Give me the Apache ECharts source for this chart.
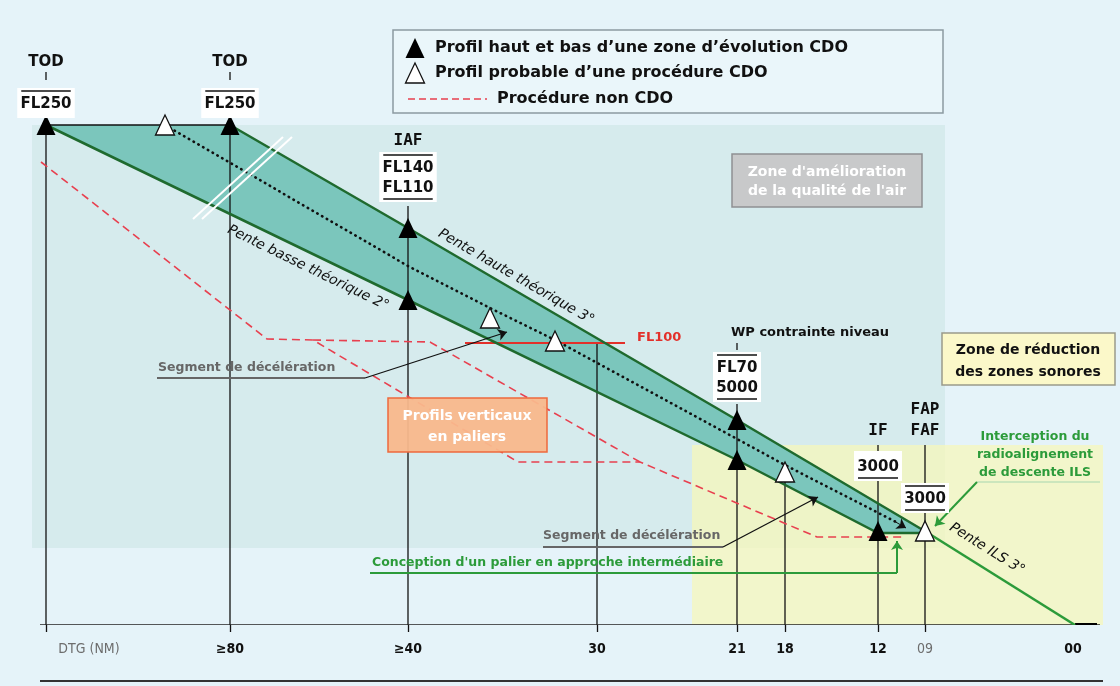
<!DOCTYPE html>
<html>
<head>
<meta charset="utf-8">
<title>Profils CDO</title>
<script src="https://cdn.jsdelivr.net/npm/echarts@6/dist/echarts.min.js"></script>
<style>
  html, body { margin: 0; padding: 0; background: #e5f3f9; }
  #chart { width: 1120px; height: 686px; }
</style>
</head>
<body>
<div id="chart"></div>
<script>
// x : position schématique le long de la trajectoire, y : niveau schématique (vers le bas)
const floorY = 625;

// axe DTG (NM)
const dtgTicks = [46, 230, 408, 597, 737, 785, 878, 925];
const dtgLabelPos = [89, 230, 408, 597, 737, 785, 878, 925, 1073];
const dtgLabels = ['DTG (NM)', '≥80', '≥40', '30', '21', '18', '12', '09', '00'];

// profil haut et bas de la zone d'évolution CDO
const topLevel = [[46, 125], [230, 125]];
const highSlope = [[230, 125], [408, 228], [737, 420], [928, 533]];
const lowSlope = [[46, 125], [408, 300], [737, 460], [878, 533], [928, 533]];
const ilsSlope = [[928, 533], [1075, 625]];

// profil probable (pointillé)
const probable = [[165, 125], [408, 266], [490, 308], [555, 340], [785, 465], [896, 522]];

// procédures non CDO
const nonCdoA = [[41, 162], [267, 339], [313, 340], [518, 462], [640, 462], [817, 537], [905, 537]];
const nonCdoB = [[313, 340], [430, 342], [640, 462]];
const fl100 = [[465, 343], [625, 343]];

// repères
const solidMarks = [[46, 125], [230, 125], [408, 228], [408, 300], [737, 420], [737, 460], [878, 531]];
const openMarks = [[165, 125], [490, 318], [555, 341], [785, 472], [925, 531]];
const verticalTops = [[46, 125], [230, 125], [408, 206], [597, 343], [737, 404], [785, 472], [878, 445], [925, 445]];

const SANS = '"DejaVu Sans", sans-serif';
const MONO = '"DejaVu Sans Mono", monospace';
const GREEN = '#2c9b3a';
const DARK_GREEN = '#1f6a2e';

const flags = [
  { x: 46, top: 88, lines: ['FL250'], over: true, under: false, tick: [72, 80], heads: [{ t: 'TOD', y: 62 }] },
  { x: 230, top: 88, lines: ['FL250'], over: true, under: false, tick: [72, 80], heads: [{ t: 'TOD', y: 62 }] },
  { x: 408, top: 152, lines: ['FL140', 'FL110'], over: true, under: true, heads: [{ t: 'IAF', y: 141, mono: true }] },
  { x: 737, top: 352, lines: ['FL70', '5000'], over: true, under: true, tick: [343, 350],
    heads: [{ t: 'WP contrainte niveau', y: 333, dx: 73, small: true }] },
  { x: 878, top: 451, lines: ['3000'], over: false, under: true, heads: [{ t: 'IF', y: 431, mono: true }] },
  { x: 925, top: 483, lines: ['3000'], over: true, under: true,
    heads: [{ t: 'FAP', y: 410, mono: true }, { t: 'FAF', y: 431, mono: true }] }
];

const zones = [
  { x0: 32, y0: 125, x1: 945, y1: 548, fill: '#d6ebed' },
  { x0: 692, y0: 445, x1: 1103, y1: 625, fill: 'rgba(247,246,184,0.72)' },
  { x0: 393, y0: 30, x1: 943, y1: 113, fill: '#eaf6fa', stroke: '#8c9ba1' }
];
const boxes = [
  { x0: 732, y0: 154, x1: 922, y1: 207, fill: '#c8c9ca', stroke: '#8f9092' },
  { x0: 942, y0: 333, x1: 1115, y1: 385, fill: '#fbf8c9', stroke: '#9a9a8a' },
  { x0: 388, y0: 398, x1: 547, y1: 452, fill: 'rgba(249,184,140,0.95)', stroke: '#ee6a3c' }
];

const texts = [
  { at: [435, 48], text: 'Profil haut et bas d’une zone d’évolution CDO', font: 'bold 16px ' + SANS, fill: '#111', align: 'left' },
  { at: [435, 73], text: 'Profil probable d’une procédure CDO', font: 'bold 16px ' + SANS, fill: '#111', align: 'left' },
  { at: [497, 99], text: 'Procédure non CDO', font: 'bold 16px ' + SANS, fill: '#111', align: 'left' },
  { at: [827, 172], text: 'Zone d\'amélioration', font: 'bold 14px ' + SANS, fill: '#fff' },
  { at: [827, 191], text: 'de la qualité de l\'air', font: 'bold 14px ' + SANS, fill: '#fff' },
  { at: [1028, 350], text: 'Zone de réduction', font: 'bold 14px ' + SANS, fill: '#111' },
  { at: [1028, 372], text: 'des zones sonores', font: 'bold 14px ' + SANS, fill: '#111' },
  { at: [467, 416], text: 'Profils verticaux', font: 'bold 14px ' + SANS, fill: '#fff' },
  { at: [467, 437], text: 'en paliers', font: 'bold 14px ' + SANS, fill: '#fff' },
  { at: [637, 338], text: 'FL100', font: 'bold 13px ' + SANS, fill: '#e3302a', align: 'left' },
  { at: [158, 368], text: 'Segment de décélération', font: 'bold 12.5px ' + SANS, fill: '#676767', align: 'left' },
  { at: [543, 536], text: 'Segment de décélération', font: 'bold 12.5px ' + SANS, fill: '#676767', align: 'left' },
  { at: [372, 563], text: 'Conception d\'un palier en approche intermédiaire', font: 'bold 12.5px ' + SANS, fill: GREEN, align: 'left' },
  { at: [1035, 437], text: 'Interception du', font: 'bold 12.5px ' + SANS, fill: GREEN },
  { at: [1035, 455], text: 'radioalignement', font: 'bold 12.5px ' + SANS, fill: GREEN },
  { at: [1035, 473], text: 'de descente ILS', font: 'bold 12.5px ' + SANS, fill: GREEN },
  { at: [516, 277], text: 'Pente haute théorique 3°', font: 'italic 14px ' + SANS, fill: '#111', rotate: -30 },
  { at: [308, 268], text: 'Pente basse théorique 2°', font: 'italic 14px ' + SANS, fill: '#111', rotate: -26 },
  { at: [987, 549], text: 'Pente ILS 3°', font: 'italic 14px ' + SANS, fill: '#111', rotate: -32 }
];

const paths = [];
const addPath = (coords, lineStyle) => paths.push({ coords, lineStyle });
verticalTops.forEach(([x, y]) => addPath([[x, y], [x, floorY]], { color: '#111', width: 1.3 }));
addPath([[40, floorY], [1100, floorY]], { color: '#222', width: 1.5 });
addPath([[1075, floorY], [1097, floorY]], { color: '#000', width: 4 });
addPath(nonCdoA, { color: '#e8404f', width: 1.6, type: [8, 5] });
addPath(nonCdoB, { color: '#e8404f', width: 1.6, type: [8, 5] });
addPath([[408, 99], [487, 99]], { color: '#e8404f', width: 1.6, type: [7, 4] });
addPath(fl100, { color: '#e3302a', width: 2.2 });
addPath(topLevel, { color: '#111', width: 1.6 });
addPath(highSlope, { color: DARK_GREEN, width: 2.5 });
addPath(lowSlope, { color: DARK_GREEN, width: 2.5 });
addPath(ilsSlope, { color: GREEN, width: 2.5 });
addPath(probable, { color: '#111', width: 2.6, type: [0.5, 5], cap: 'round' });
addPath([[193, 219], [283, 137]], { color: '#fff', width: 2 });
addPath([[202, 219], [292, 137]], { color: '#fff', width: 2 });
addPath([[157, 378], [365, 378]], { color: '#666', width: 2 });
addPath([[543, 547], [723, 547]], { color: '#666', width: 2 });
addPath([[370, 573], [897, 573]], { color: GREEN, width: 2 });
addPath([[977, 482], [1100, 482]], { color: '#bfe0b8', width: 1.5 });

const arrows = [
  { coords: [[365, 378], [507, 332]], lineStyle: { color: '#111', width: 1.3 } },
  { coords: [[723, 547], [818, 497]], lineStyle: { color: '#111', width: 1.3 } },
  { coords: [[897, 573], [897, 541]], lineStyle: { color: GREEN, width: 2 } },
  { coords: [[977, 482], [935, 526]], lineStyle: { color: GREEN, width: 2 } },
  { coords: [[894, 521], [906, 528]], lineStyle: { color: '#111', width: 1 } }
];

const band = [...topLevel, ...highSlope.slice(1), ...lowSlope.slice().reverse()];

function rectSeries(list, z) {
  return {
    type: 'custom', z, silent: true,
    data: list.map(p => [p.x0, p.y0, p.x1, p.y1]),
    renderItem(params, api) {
      const a = api.coord([api.value(0), api.value(1)]);
      const b = api.coord([api.value(2), api.value(3)]);
      const p = list[params.dataIndex];
      return {
        type: 'rect',
        shape: { x: a[0], y: a[1], width: b[0] - a[0], height: b[1] - a[1] },
        style: { fill: p.fill, stroke: p.stroke || null, lineWidth: p.stroke ? 1.5 : 0 }
      };
    }
  };
}

function renderFlag(params, api) {
  const f = flags[params.dataIndex];
  const x = api.value(0);
  const top = api.value(1);
  const c = api.coord([x, top]);
  const n = f.lines.length;
  const w = Math.max(...f.lines.map(t => t.length)) * 9.5 + 10;
  const h = n * 20 + 10;
  const kids = [{ type: 'rect', shape: { x: c[0] - w / 2, y: c[1], width: w, height: h }, style: { fill: '#fff' } }];
  const rule = yy => ({ type: 'line', shape: { x1: c[0] - w / 2 + 4, y1: yy, x2: c[0] + w / 2 - 4, y2: yy }, style: { stroke: '#111', lineWidth: 1.6 } });
  f.lines.forEach((t, i) => kids.push({
    type: 'text', x: c[0], y: c[1] + 16 + i * 20,
    style: { text: t, font: 'bold 15px ' + SANS, fill: '#111', align: 'center', verticalAlign: 'middle' }
  }));
  if (f.over) kids.push(rule(c[1] + 3));
  if (f.under) kids.push(rule(c[1] + h - 3));
  if (f.tick) {
    const t0 = api.coord([x, f.tick[0]]), t1 = api.coord([x, f.tick[1]]);
    kids.push({ type: 'line', shape: { x1: t0[0], y1: t0[1], x2: t1[0], y2: t1[1] }, style: { stroke: '#111', lineWidth: 1.3 } });
  }
  f.heads.forEach(hd => {
    const p = api.coord([x + (hd.dx || 0), hd.y]);
    const font = hd.mono ? 'bold 16px ' + MONO : (hd.small ? 'bold 13px ' + SANS : 'bold 15px ' + SANS);
    kids.push({ type: 'text', x: p[0], y: p[1], style: { text: hd.t, font, fill: '#111', align: 'center', verticalAlign: 'middle' } });
  });
  return { type: 'group', children: kids };
}

const chart = echarts.init(document.getElementById('chart'));
chart.setOption({
  animation: false,
  backgroundColor: '#e5f3f9',
  grid: { left: 0, right: 0, top: 0, bottom: 61 },
  xAxis: {
    type: 'value', min: 0, max: 1120,
    axisLine: { show: false, onZero: false },
    splitLine: { show: false },
    axisTick: { show: true, customValues: dtgTicks, length: 7, lineStyle: { color: '#111', width: 1.3 } },
    axisLabel: {
      customValues: dtgLabelPos,
      margin: 17,
      formatter: v => {
        const i = dtgLabelPos.indexOf(v);
        if (i < 0) return '';
        const style = (i === 0 || dtgLabels[i] === '09') ? 'dim' : 'b';
        return '{' + style + '|' + dtgLabels[i] + '}';
      },
      rich: {
        b: { fontFamily: '"DejaVu Sans Condensed", "DejaVu Sans", sans-serif', fontWeight: 'bold', fontSize: 14, color: '#111' },
        dim: { fontFamily: '"DejaVu Sans Condensed", "DejaVu Sans", sans-serif', fontSize: 14, color: '#6d6d6d' }
      }
    }
  },
  yAxis: { type: 'value', min: 0, max: floorY, inverse: true, show: false },
  graphic: [{
    type: 'line', shape: { x1: 40, y1: 681, x2: 1103, y2: 681 },
    style: { stroke: '#333', lineWidth: 2 }
  }],
  series: [
    rectSeries(zones, 0),
    {
      type: 'custom', z: 1, silent: true,
      data: [band[0]],
      renderItem(params, api) {
        return { type: 'polygon', shape: { points: band.map(p => api.coord(p)) }, style: { fill: '#7bc6bc' } };
      }
    },
    {
      type: 'lines', coordinateSystem: 'cartesian2d', polyline: true, z: 3, silent: true,
      lineStyle: { opacity: 1 },
      data: paths
    },
    {
      type: 'lines', coordinateSystem: 'cartesian2d', z: 4, silent: true,
      symbol: ['none', 'arrow'], symbolSize: 9,
      lineStyle: { opacity: 1 },
      data: arrows
    },
    {
      name: 'Profil haut et bas d’une zone d’évolution CDO',
      type: 'scatter', z: 5, silent: true,
      symbol: 'triangle', symbolSize: [19, 20],
      itemStyle: { color: '#000', opacity: 1 },
      data: solidMarks.concat([[415, 48]])
    },
    {
      name: 'Profil probable d’une procédure CDO',
      type: 'scatter', z: 5, silent: true,
      symbol: 'triangle', symbolSize: [19, 20],
      itemStyle: { color: '#fff', borderColor: '#111', borderWidth: 1.3, opacity: 1 },
      data: openMarks.concat([[415, 73]])
    },
    rectSeries(boxes, 6),
    {
      type: 'custom', z: 7, silent: true,
      data: flags.map(f => [f.x, f.top]),
      renderItem: renderFlag
    },
    {
      type: 'custom', z: 8, silent: true,
      data: texts.map(t => t.at),
      renderItem(params, api) {
        const t = texts[params.dataIndex];
        const p = api.coord([api.value(0), api.value(1)]);
        return {
          type: 'text', x: p[0], y: p[1], rotation: (t.rotate || 0) * Math.PI / 180,
          style: { text: t.text, font: t.font, fill: t.fill, align: t.align || 'center', verticalAlign: 'middle' }
        };
      }
    }
  ]
});
</script>
</body>
</html>
